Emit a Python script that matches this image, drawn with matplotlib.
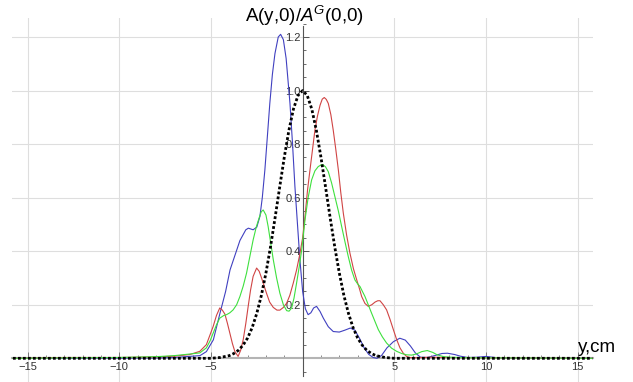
import matplotlib
matplotlib.use("Agg")
import matplotlib.pyplot as plt
from matplotlib.ticker import MultipleLocator, FixedLocator, FuncFormatter

plt.rcParams['font.family'] = ['Liberation Sans', 'DejaVu Sans']
plt.rcParams['mathtext.fontset'] = 'custom'
plt.rcParams['mathtext.rm'] = 'Liberation Sans'
plt.rcParams['mathtext.it'] = 'Liberation Sans:italic'

# ---- data ----
blue_x = [-15.8, -8.0, -7.0, -6.2, -5.6, -5.25, -4.87, -4.51, -4.2, -3.96, -3.42, -3.1, -2.96,
          -2.7, -2.5, -2.33, -2.2, -2.06, -1.9, -1.79, -1.65, -1.51, -1.33, -1.2, -1.05, -0.9,
          -0.69, -0.55, -0.42, -0.28, -0.15, 0.0, 0.15, 0.3, 0.45, 0.6, 0.76, 0.95, 1.13, 1.4,
          1.67, 2.0, 2.3, 2.6, 2.85, 3.1, 3.35, 3.6, 3.85, 4.05, 4.3, 4.6, 4.95, 5.3, 5.6, 5.88,
          6.15, 6.43, 6.8, 7.2, 7.6, 7.9, 8.3, 8.6, 9.0, 9.5, 10.0, 10.5, 11.0, 15.8]
blue_y = [0.0, 0.001, 0.003, 0.007, 0.01, 0.025, 0.069, 0.168, 0.25, 0.33, 0.44, 0.48, 0.486,
          0.48, 0.49, 0.53, 0.6, 0.703, 0.85, 0.952, 1.06, 1.138, 1.2, 1.21, 1.19, 1.12,
          0.952, 0.8, 0.641, 0.5, 0.37, 0.25, 0.185, 0.163, 0.17, 0.188, 0.194, 0.175, 0.15, 0.118,
          0.1, 0.098, 0.105, 0.113, 0.105, 0.075, 0.04, 0.015, 0.003, 0.0, 0.01, 0.039, 0.062, 0.075, 0.068, 0.046,
          0.02, 0.004, 0.003, 0.01, 0.018, 0.019, 0.014, 0.008, 0.003, 0.004, 0.007, 0.003, 0.001, 0.0]

red_x = [-15.8, -13.0, -10.0, -8.0, -7.0, -6.16, -5.61, -5.25, -4.88, -4.7, -4.52, -4.38, -4.24,
         -4.1, -3.97, -3.83, -3.7, -3.52, -3.38, -3.24, -3.1, -2.97, -2.84, -2.7, -2.51, -2.37,
         -2.24, -1.97, -1.8, -1.6, -1.4, -1.24, -1.05, -0.87, -0.7, -0.51, -0.33, -0.15, 0.0,
         0.13, 0.27, 0.4, 0.54, 0.67, 0.81, 0.95, 1.07, 1.18, 1.29, 1.4, 1.54, 1.67, 1.81, 1.95,
         2.08, 2.22, 2.4, 2.58, 2.77, 2.95, 3.1, 3.22, 3.4, 3.58, 3.77, 3.95, 4.1, 4.22, 4.4,
         4.58, 4.77, 4.95, 5.13, 5.31, 5.5, 5.67, 5.85, 6.04, 7.0, 8.0, 10.0, 15.8]
red_y = [0.0, 0.003, 0.003, 0.005, 0.008, 0.014, 0.026, 0.051, 0.119, 0.16, 0.188, 0.18, 0.165,
         0.13, 0.094, 0.055, 0.026, 0.007, 0.03, 0.07, 0.13, 0.194, 0.255, 0.306, 0.337, 0.325,
         0.3, 0.243, 0.21, 0.19, 0.18, 0.18, 0.19, 0.206, 0.235, 0.281, 0.33, 0.39, 0.45,
         0.53, 0.63, 0.703, 0.78, 0.852, 0.905, 0.945, 0.968, 0.974, 0.967, 0.952, 0.91, 0.852, 0.78, 0.703,
         0.62, 0.542, 0.46, 0.393, 0.335, 0.293, 0.26, 0.231, 0.205, 0.194, 0.2, 0.21, 0.215, 0.215, 0.2,
         0.181, 0.145, 0.107, 0.07, 0.039, 0.018, 0.007, 0.003, 0.002, 0.004, 0.003, 0.002, 0.0]

green_x = [-15.8, -12.0, -10.0, -8.0, -7.0, -6.16, -5.61, -5.25, -5.05, -4.88, -4.7, -4.52, -4.3,
           -4.15, -3.97, -3.79, -3.6, -3.42, -3.24, -3.06, -2.88, -2.7, -2.53, -2.37, -2.25, -2.15,
           -2.0, -1.88, -1.74, -1.6, -1.42, -1.24, -1.05, -0.87, -0.74, -0.6, -0.47, -0.33, -0.19,
           -0.05, 0.13, 0.3, 0.49, 0.67, 0.85, 1.0, 1.09, 1.25, 1.4, 1.58, 1.76, 1.95, 2.13, 2.31,
           2.49, 2.67, 2.85, 3.0, 3.13, 3.26, 3.4, 3.58, 3.76, 3.95, 4.13, 4.35, 4.58, 4.85, 5.13,
           5.4, 5.67, 5.95, 6.2, 6.5, 6.8, 7.1, 7.34, 7.7, 8.07, 9.0, 15.8]
green_y = [0.0, 0.002, 0.003, 0.006, 0.01, 0.016, 0.02, 0.039, 0.065, 0.094, 0.125, 0.15, 0.16,
           0.163, 0.17, 0.181, 0.2, 0.231, 0.27, 0.318, 0.38, 0.442, 0.49, 0.525, 0.548, 0.554,
           0.535, 0.492, 0.43, 0.368, 0.3, 0.243, 0.2, 0.178, 0.176, 0.188, 0.225, 0.281, 0.34,
           0.405, 0.517, 0.6, 0.666, 0.7, 0.716, 0.722, 0.724, 0.715, 0.697, 0.655, 0.604, 0.55, 0.492, 0.435,
           0.38, 0.33, 0.293, 0.278, 0.268, 0.25, 0.231, 0.2, 0.169, 0.137, 0.107, 0.08, 0.057, 0.038, 0.026,
           0.018, 0.013, 0.012, 0.016, 0.025, 0.029, 0.022, 0.013, 0.006, 0.004, 0.002, 0.0]

gauss_x = [-15.8, -5.0, -4.5, -4.0, -3.75, -3.5, -3.25, -3.0, -2.75, -2.5, -2.25, -2.0, -1.75,
           -1.5, -1.25, -1.0, -0.75, -0.5, -0.25, 0.0, 0.25, 0.5, 0.75, 1.0, 1.25, 1.5, 1.75,
           2.0, 2.25, 2.5, 2.75, 3.0, 3.25, 3.5, 3.75, 4.0, 4.5, 5.0, 15.8]
gauss_y = [0.0, 0.0, 0.003, 0.01, 0.018, 0.03, 0.049, 0.076, 0.115, 0.168, 0.235, 0.319, 0.417,
           0.526, 0.64, 0.751, 0.851, 0.931, 0.982, 1.0, 0.982, 0.931, 0.851, 0.751, 0.64, 0.526, 0.417,
           0.319, 0.235, 0.168, 0.115, 0.076, 0.049, 0.03, 0.018, 0.01, 0.003, 0.0, 0.0]

x_major = [-15, -10, -5, 5, 10, 15]
y_major = [0.2, 0.4, 0.6, 0.8, 1.0, 1.2]

W, H = 633, 382
fig = plt.figure(figsize=(W / 100, H / 100), dpi=100)
ax = fig.add_axes([11.7 / W, 0.0, (593 - 11.7) / W, (382 - 18) / H])
ax.set_xlim(-15.87, 15.84)
ax.set_ylim(-0.0885, 1.271)

grid_c = '#dedede'
for gx in x_major:
    ax.axvline(gx, color=grid_c, lw=0.8, zorder=0)
for gy in y_major:
    ax.axhline(gy, color=grid_c, lw=0.8, zorder=0)

ax.plot(blue_x, blue_y, color='#4040c0', lw=0.8, zorder=3)
ax.plot(red_x, red_y, color='#d04444', lw=0.8, zorder=3)
ax.plot(green_x, green_y, color='#3ee03e', lw=0.8, zorder=3)
ax.plot(gauss_x, gauss_y, color='black', lw=2.0, linestyle=(0, (1, 0.8)), zorder=4)

for s in ['top', 'right']:
    ax.spines[s].set_visible(False)
ax.spines['bottom'].set_position(('data', 0))
ax.spines['left'].set_position(('data', 0))
ax.spines['bottom'].set_color('#b4b4b4')
ax.spines['bottom'].set_linewidth(1.5)
ax.spines['left'].set_color('#555555')
ax.spines['left'].set_linewidth(0.8)
ax.spines['left'].set_bounds(-0.067, 1.24)
ax.spines['bottom'].set_zorder(2)

ax.xaxis.set_major_locator(FixedLocator(x_major))
ax.xaxis.set_minor_locator(MultipleLocator(1))
ax.yaxis.set_major_locator(FixedLocator(y_major))
ax.yaxis.set_minor_locator(MultipleLocator(0.05))
ax.xaxis.set_major_formatter(FuncFormatter(lambda v, p: f"{int(v)}".replace('-', '\u2212')))
ax.yaxis.set_major_formatter(FuncFormatter(lambda v, p: f"{v:.1f}"))

ax.tick_params(axis='x', which='major', direction='in', length=4, width=0.7, color='#777777',
               labelsize=8, labelcolor='#333333', pad=3)
ax.tick_params(axis='x', which='minor', direction='in', length=2, width=0.6, color='#777777')
ax.tick_params(axis='y', which='major', direction='in', length=4, width=0.7, color='#555555',
               labelsize=8, labelcolor='#333333', pad=1.5)
ax.tick_params(axis='y', which='minor', direction='in', length=2, width=0.6, color='#555555')
for lab in ax.get_yticklabels():
    lab.set_zorder(5)

fig.text(305 / W, 1 - 22 / H, 'A(y,0)/$A^{G}$(0,0)', ha='center', va='baseline', fontsize=13.5)
fig.text(578 / W, 1 - 351.7 / H, 'y,cm', ha='left', va='baseline', fontsize=13.5)

fig.savefig('out.png', dpi=100)
